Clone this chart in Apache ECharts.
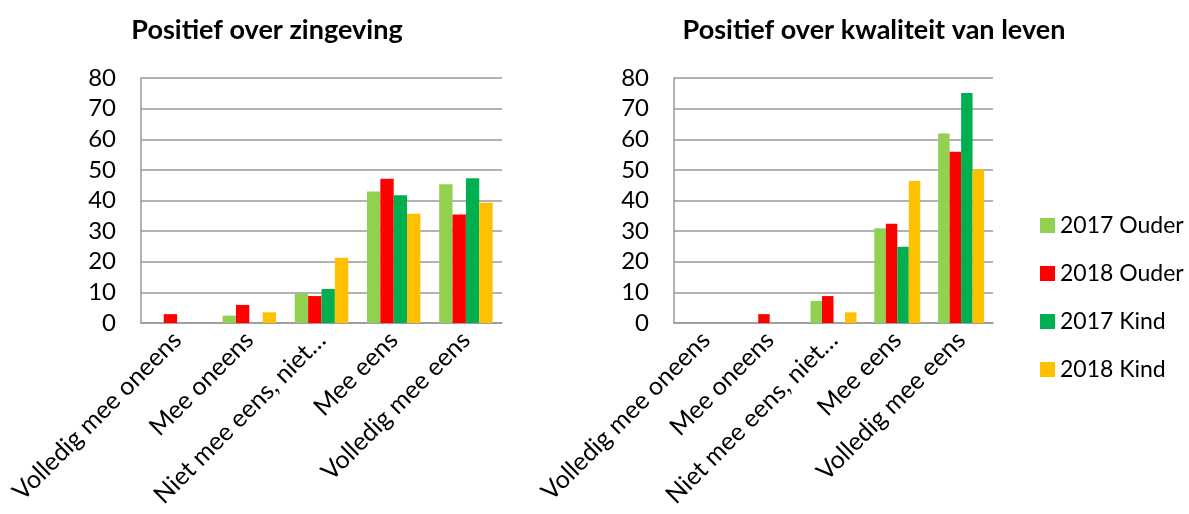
<!DOCTYPE html>
<html><head><meta charset="utf-8">
<script src="https://cdn.jsdelivr.net/npm/echarts@6/dist/echarts.min.js"></script>
<style>html,body{margin:0;padding:0;background:#fff}#c{width:1189px;height:514px}</style>
</head><body><div id="c"></div>
<script>
const categories = ['Volledig mee oneens', 'Mee oneens', 'Niet mee eens, niet…', 'Mee eens', 'Volledig mee eens'];
const seriesNames = ['2017 Ouder', '2018 Ouder', '2017 Kind', '2018 Kind'];
const colors = ['#92D050', '#FF0000', '#00B050', '#FFC000'];
const yTicks = [0, 10, 20, 30, 40, 50, 60, 70, 80];
const titles = ['Positief over zingeving', 'Positief over kwaliteit van leven'];

// Chart 1: Positief over zingeving
const zin2017Ouder = [0, 2.4, 9.5, 42.9, 45.3];
const zin2018Ouder = [2.9, 5.9, 8.8, 47.1, 35.4];
const zin2017Kind  = [0, 0, 11.1, 41.7, 47.3];
const zin2018Kind  = [0, 3.5, 21.3, 35.7, 39.3];

// Chart 2: Positief over kwaliteit van leven
const kwa2017Ouder = [0, 0, 7.2, 30.9, 61.9];
const kwa2018Ouder = [0, 2.9, 8.8, 32.4, 55.9];
const kwa2017Kind  = [0, 0, 0, 24.9, 75.1];
const kwa2018Kind  = [0, 0, 3.5, 46.4, 50.1];

const data1 = [zin2017Ouder, zin2018Ouder, zin2017Kind, zin2018Kind];
const data2 = [kwa2017Ouder, kwa2018Ouder, kwa2017Kind, kwa2018Kind];

const FONT = 'Lato';
const chart = echarts.init(document.getElementById('c'), null, {renderer: 'canvas'});

function xAx(gi) {
  return {
    type: 'category', gridIndex: gi, data: categories,
    axisLine: {show: true, lineStyle: {color: '#999', width: 1.5}},
    axisTick: {show: false},
    axisLabel: {rotate: 45, interval: 0, color: '#000', fontSize: 25, fontFamily: FONT, margin: 13}
  };
}
function yAx(gi) {
  return {
    type: 'value', gridIndex: gi, min: yTicks[0], max: yTicks[yTicks.length - 1], interval: 10,
    axisLine: {show: true, lineStyle: {color: '#999', width: 1.5}},
    axisTick: {show: false},
    splitLine: {show: true, lineStyle: {color: '#999', width: 1.5}},
    axisLabel: {color: '#000', fontSize: 24, fontFamily: FONT, margin: 25}
  };
}
const series = [];
[data1, data2].forEach((d, gi) => {
  d.forEach((vals, si) => {
    series.push({
      name: seriesNames[si], type: 'bar', xAxisIndex: gi, yAxisIndex: gi,
      data: vals, barGap: '0%', barCategoryGap: gi === 0 ? '26%' : '28%',
      itemStyle: {color: colors[si]}, silent: true
    });
  });
});

chart.setOption({
  animation: false,
  textStyle: {fontFamily: FONT},
  title: [
    {text: titles[0], left: 262, top: 12, textAlign: 'center', textStyle: {fontSize: 27, fontWeight: 'bold', color: '#000', fontFamily: FONT}},
    {text: titles[1], left: 869, top: 12, textAlign: 'center', textStyle: {fontSize: 27, fontWeight: 'bold', color: '#000', fontFamily: FONT}}
  ],
  legend: {
    orient: 'vertical', left: 1035, top: 209, itemGap: 25, itemWidth: 15, itemHeight: 15,
    icon: 'rect', data: seriesNames,
    textStyle: {fontSize: 23, color: '#000', fontFamily: FONT}
  },
  grid: [
    {left: 141, top: 78, width: 361, height: 245},
    {left: 674, top: 78, width: 319, height: 245}
  ],
  xAxis: [xAx(0), xAx(1)],
  yAxis: [yAx(0), yAx(1)],
  series: series
});
</script></body></html>
